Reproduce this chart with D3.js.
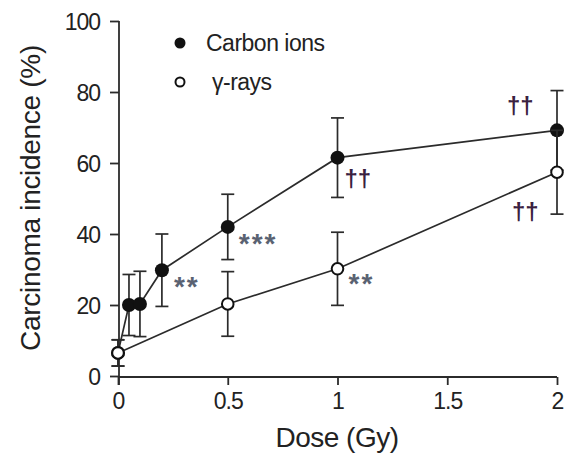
<!DOCTYPE html>
<html>
<head>
<meta charset="utf-8">
<script src="https://cdn.jsdelivr.net/npm/d3@7"></script>
<style>
  body { margin: 0; background: #fff; }
  svg { font-family: Arial, "Liberation Sans", sans-serif; }
</style>
</head>
<body>
<div id="chart"></div>
<script>
// -------------------------
// DATA
// -------------------------
const carbonDose = [0, 0.05, 0.1, 0.2, 0.5, 1, 2];
const carbonVal  = [6.5, 20, 20.3, 29.8, 42, 61.5, 69.2];
const carbonErr  = [3.7, 8.6, 9.2, 10.2, 9.2, 11.2, 11.2];

const gammaDose = [0, 0.5, 1, 2];
const gammaVal  = [6.5, 20.3, 30.2, 57.4];
const gammaErr  = [3.7, 9.1, 10.3, 11.8];

const xTicks = [0, 0.5, 1, 1.5, 2];
const xTickLabels = ["0", "0.5", "1", "1.5", "2"];
const yTicks = [0, 20, 40, 60, 80, 100];

// significance marks: [dose, value, text, dx, dy]
const marks = [
  [0.2, 29.8, "**", 12, 26],
  [0.5, 42, "***", 11, 26],
  [1, 61.5, "\u2020\u2020", 7, 29],
  [1, 30.2, "**", 11, 24],
  [2, 69.2, "\u2020\u2020", -50, -16],
  [2, 57.4, "\u2020\u2020", -45, 48]
];

const legendItems = ["Carbon ions", "\u03b3-rays"];

// -------------------------
// SETUP
// -------------------------
const W = 568, H = 468;
const svg = d3.select("#chart").append("svg").attr("width", W).attr("height", H);

const x = d3.scaleLinear().domain([0, 2]).range([118, 557]);
const y = d3.scaleLinear().domain([0, 100]).range([376, 21]);
const ink = "#2b2b2b";

// axes
const gx = svg.append("g").attr("transform", "translate(0,377)")
  .call(d3.axisBottom(x).tickValues(xTicks).tickFormat((d, i) => xTickLabels[i]).tickSize(8).tickSizeOuter(0).tickPadding(8));
const gy = svg.append("g").attr("transform", "translate(119,0)")
  .call(d3.axisLeft(y).tickValues(yTicks).tickSize(9).tickSizeOuter(0).tickPadding(10));

[gx, gy].forEach(g => {
  g.select(".domain").attr("stroke", ink).attr("stroke-width", 1.8);
  g.selectAll(".tick line").attr("stroke", ink).attr("stroke-width", 1.8);
  g.selectAll(".tick text").attr("fill", "#222").attr("font-size", 23).attr("letter-spacing", -1)
    .attr("font-family", "Arial, 'Liberation Sans', sans-serif");
});
gx.select(".domain").attr("d", `M${x(0)},0H${x(2)}`);
gy.select(".domain").attr("d", `M0,${y(100)}V${y(0) + 9}`);
gy.selectAll(".tick text").attr("dy", "0.36em");

// axis titles
svg.append("text").attr("x", 337).attr("y", 447).attr("text-anchor", "middle")
  .attr("font-size", 28).attr("letter-spacing", -0.5).attr("fill", "#222").text("Dose (Gy)");
svg.append("text").attr("transform", "translate(40,198) rotate(-90)").attr("text-anchor", "middle")
  .attr("font-size", 28).attr("letter-spacing", -0.3).attr("fill", "#222").text("Carcinoma incidence (%)");

// -------------------------
// SERIES
// -------------------------
function drawSeries(doses, vals, errs) {
  const pts = doses.map((d, i) => ({ d, v: vals[i], e: errs[i] }));
  const g = svg.append("g");
  g.append("path").datum(pts)
    .attr("fill", "none").attr("stroke", ink).attr("stroke-width", 1.7)
    .attr("d", d3.line().x(p => x(p.d)).y(p => y(p.v)));
  const eb = g.selectAll(".eb").data(pts).enter().append("g")
    .attr("stroke", ink).attr("stroke-width", 1.7);
  eb.append("line").attr("x1", p => x(p.d)).attr("x2", p => x(p.d))
    .attr("y1", p => y(p.v - p.e)).attr("y2", p => y(p.v + p.e));
  eb.append("line").attr("x1", p => x(p.d) - 6.5).attr("x2", p => x(p.d) + 6.5)
    .attr("y1", p => y(p.v + p.e)).attr("y2", p => y(p.v + p.e));
  eb.append("line").attr("x1", p => x(p.d) - 6.5).attr("x2", p => x(p.d) + 6.5)
    .attr("y1", p => y(p.v - p.e)).attr("y2", p => y(p.v - p.e));
  return { g, pts };
}

const carbon = drawSeries(carbonDose, carbonVal, carbonErr);
const gamma = drawSeries(gammaDose, gammaVal, gammaErr);

carbon.g.selectAll(".pt").data(carbon.pts).enter().append("circle")
  .attr("cx", p => x(p.d)).attr("cy", p => y(p.v)).attr("r", 7).attr("fill", "#111");
gamma.g.selectAll(".pt").data(gamma.pts).enter().append("circle")
  .attr("cx", p => x(p.d)).attr("cy", p => y(p.v)).attr("r", 5.8)
  .attr("fill", "#fff").attr("stroke", "#111").attr("stroke-width", 2);

// significance marks
svg.selectAll(".mark").data(marks).enter().append("text")
  .attr("x", m => x(m[0]) + m[3]).attr("y", m => y(m[1]) + m[4])
  .attr("font-size", m => m[2].includes("*") ? 28 : 24)
  .attr("font-weight", "bold")
  .attr("letter-spacing", m => m[2].includes("*") ? 2 : 0)
  .attr("fill", m => m[2].includes("*") ? "#5a6272" : "#3a2140")
  .text(m => m[2]);

// legend
const lg = svg.append("g");
lg.append("circle").attr("cx", 180).attr("cy", 43).attr("r", 5.5).attr("fill", "#111");
lg.append("circle").attr("cx", 180).attr("cy", 82).attr("r", 4.5)
  .attr("fill", "#fff").attr("stroke", "#111").attr("stroke-width", 2);
lg.selectAll(".lt").data(legendItems).enter().append("text")
  .attr("x", (d, i) => i === 0 ? 206 : 212).attr("y", (d, i) => 43 + i * 39)
  .attr("dy", "0.35em").attr("font-size", 23).attr("letter-spacing", -0.5)
  .attr("fill", "#222").text(d => d);
</script>
</body>
</html>
